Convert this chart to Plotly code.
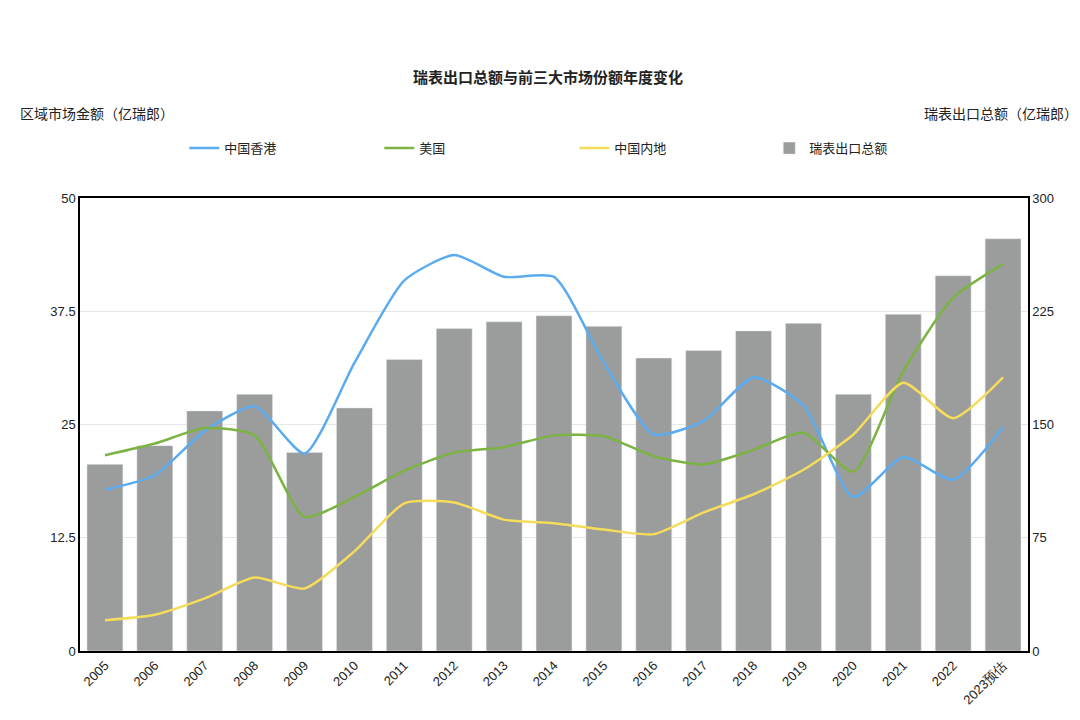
import plotly.graph_objects as go

years = ["2005", "2006", "2007", "2008", "2009", "2010", "2011", "2012", "2013", "2014",
         "2015", "2016", "2017", "2018", "2019", "2020", "2021", "2022", "2023预估"]
total_export = [123.6, 136, 159, 170, 131.5, 161, 193, 213.5, 218, 222,
                215, 194, 199, 212, 217, 170, 223, 248.5, 273]
hong_kong = [17.8, 19.4, 24.3, 27, 21.8, 31.8, 40.9, 43.7, 41.3, 41.3,
             31.8, 23.9, 25.4, 30.2, 27.1, 17, 21.4, 18.9, 24.7]
usa = [21.6, 22.9, 24.6, 23.8, 14.8, 17, 19.9, 21.9, 22.5, 23.8,
       23.7, 21.5, 20.6, 22.2, 24.1, 19.8, 30.9, 39, 42.7]
mainland = [3.4, 4, 5.8, 8.1, 6.9, 11, 16.3, 16.4, 14.5, 14.1,
            13.4, 12.9, 15.3, 17.3, 20, 23.9, 29.6, 25.7, 30.2]

font = "Noto Sans CJK SC"
fig = go.Figure()
# lines sit on the overlaying (left) axis so they draw above the bars
line_kw = dict(mode="lines", yaxis="y2")
fig.add_trace(go.Scatter(x=years, y=hong_kong, name="中国香港", **line_kw,
                         line=dict(color="#5aabf0", width=2.5, shape="spline", smoothing=0.6)))
fig.add_trace(go.Scatter(x=years, y=usa, name="美国", **line_kw,
                         line=dict(color="#7cb342", width=2.5, shape="spline", smoothing=0.6)))
fig.add_trace(go.Scatter(x=years, y=mainland, name="中国内地", **line_kw,
                         line=dict(color="#f5dc5a", width=2.5, shape="spline", smoothing=0.6)))
fig.add_trace(go.Bar(x=years, y=total_export, name="瑞表出口总额", yaxis="y",
                     marker=dict(color="#9b9c9c"), width=0.72))

tick_font = dict(size=13, family="Liberation Sans", color="#222")
fig.update_layout(
    width=1080, height=720,
    paper_bgcolor="white", plot_bgcolor="white",
    margin=dict(l=72, r=60, t=190, b=77),
    font=dict(family=font, size=13, color="#222"),
    title=dict(text="<b>瑞表出口总额与前三大市场份额年度变化</b>", x=0.5, y=0.91,
               xanchor="center", font=dict(size=15)),
    legend=dict(orientation="h", x=0.11, y=1.11, xanchor="left", yanchor="middle",
                traceorder="normal", entrywidth=150, entrywidthmode="pixels",
                font=dict(size=13)),
    xaxis=dict(tickangle=-45, showline=True, linecolor="black", linewidth=1.5, mirror=True,
               ticks="", tickfont=tick_font),
    yaxis=dict(range=[0, 300], tickvals=[0, 75, 150, 225, 300], side="right",
               gridcolor="#e6e6e6", showline=True, linecolor="black", linewidth=1.5,
               zeroline=False, tickfont=tick_font),
    yaxis2=dict(range=[0, 50], tickvals=[0, 12.5, 25, 37.5, 50], overlaying="y", side="left",
                showgrid=False, showline=True, linecolor="black", linewidth=1.5, zeroline=False,
                tickfont=tick_font),
    annotations=[
        dict(text="区域市场金额（亿瑞郎）", x=0, xref="paper", xanchor="left", xshift=-62,
             y=1.215, yref="paper", showarrow=False, font=dict(size=14)),
        dict(text="瑞表出口总额（亿瑞郎）", x=1, xref="paper", xanchor="right", xshift=52,
             y=1.215, yref="paper", showarrow=False, font=dict(size=14)),
    ],
)

fig.write_html("out.html")
